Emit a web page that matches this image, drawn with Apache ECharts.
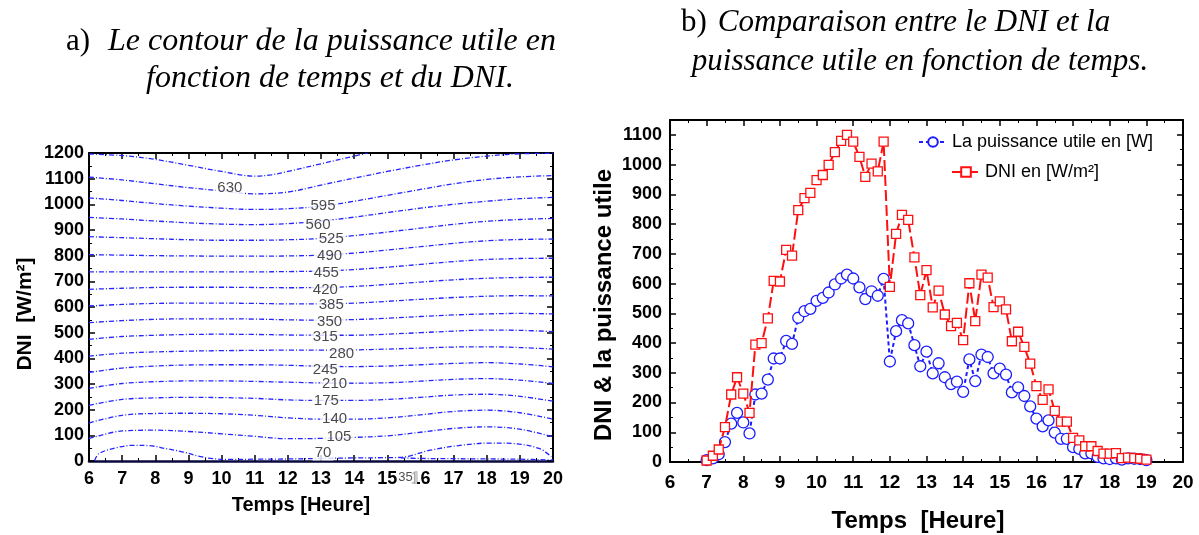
<!DOCTYPE html>
<html><head><meta charset="utf-8">
<script src="https://cdn.jsdelivr.net/npm/echarts@6/dist/echarts.min.js"></script>
<style>html,body{margin:0;padding:0;background:#fff}#c{width:1199px;height:535px}</style>
</head><body><div id="c"></div>
<script>
// ---------- Left chart: contour lines [time, DNI] ----------
const C665 = [[6,1196],[7,1190],[8,1175],[9,1152],[10,1128],[11,1110],[11.5,1115],[12,1128],[13,1158],[14,1188],[14.4,1200]];
const C630 = [[6,1106],[7,1095],[8,1080],[9,1065],[10,1052],[11,1041],[12,1048],[13,1075],[14,1102],[15,1128],[16,1152],[17,1173],[18,1188],[19,1197],[20,1199]];
const C595 = [[6,1025],[7,1015],[8,1003],[9,993],[10,985],[11,980],[12,983],[13,993],[14,1012],[15,1035],[16,1058],[17,1080],[18,1097],[19,1107],[20,1112]];
const C560 = [[6,949],[7,943],[8,935],[9,928],[10,923],[11,921],[12,925],[13,935],[14,950],[15,968],[16,985],[17,1000],[18,1012],[19,1022],[20,1027]];
const C525 = [[6,874],[7,870],[8,866],[9,862],[10,860],[11,860],[12,862],[13,867],[14,878],[15,892],[16,907],[17,922],[18,934],[19,941],[20,945]];
const C490 = [[6,804],[7,802],[8,800],[9,799],[10,798],[11,798],[12,799],[13,802],[14,810],[15,822],[16,835],[17,848],[18,858],[19,863],[20,865]];
const C455 = [[6,737],[7,737],[8,737],[9,737],[10,737],[11,737],[12,738],[13,740],[14,746],[15,755],[16,766],[17,777],[18,785],[19,789],[20,790]];
const C420 = [[6,669],[7,673],[8,676],[9,677],[10,677],[11,676],[12,675],[13,676],[14,680],[15,688],[16,697],[17,706],[18,712],[19,715],[20,716]];
const C385 = [[6,604],[7,610],[8,614],[9,615],[10,615],[11,614],[12,612],[13,612],[14,615],[15,622],[16,630],[17,637],[18,642],[19,644],[20,643]];
const C350 = [[6,539],[7,547],[8,552],[9,554],[10,554],[11,553],[12,550],[13,549],[14,551],[15,556],[16,563],[17,569],[18,573],[19,575],[20,573]];
const C315 = [[6,474],[7,485],[8,490],[9,493],[10,494],[11,493],[12,491],[13,490],[14,490],[15,494],[16,500],[17,506],[18,510],[19,509],[20,504]];
const C280 = [[6,409],[7,420],[8,425],[9,428],[10,430],[11,431],[12,432],[13,432],[14,433],[15,436],[16,440],[17,444],[18,445],[19,442],[20,436]];
const C245 = [[6,345],[7,362],[8,370],[9,374],[10,375],[11,375],[12,373],[13,369],[14,368],[15,370],[16,375],[17,380],[18,383],[19,378],[20,367]];
const C210 = [[6,283],[7,302],[8,309],[9,312],[10,312],[11,310],[12,307],[13,304],[14,303],[15,305],[16,311],[17,318],[18,321],[19,315],[20,302]];
const C175 = [[6,217],[7,240],[8,246],[9,248],[10,247],[11,244],[12,238],[13,236],[14,236],[15,240],[16,248],[17,257],[18,260],[19,252],[20,233]];
const C140 = [[6,148],[7,178],[8,185],[9,186],[10,184],[11,178],[12,168],[13,163],[14,163],[15,168],[16,180],[17,193],[18,198],[19,188],[20,163]];
const C105 = [[6,87],[7,117],[8,120],[9,115],[10,106],[11,96],[12,87],[13,88],[14,92],[15,98],[16,112],[17,127],[18,133],[19,124],[20,94]];
const C70  = [[6.17,2],[6.3,29],[6.83,52],[7.33,61],[7.8,60],[8.33,48],[8.84,35],[9.34,18],[9.74,9],[10.3,6],[11,7],[12,8],[13,10],[14,12],[15,13],[15.4,14],[16.3,42],[17.2,61],[18.1,70],[18.8,68],[19.6,48],[19.95,16]];
const C35  = [[15.4,12],[16,10],[17,9],[18,8],[19,7],[20,4]];
const CONTOURS = [C665,C630,C595,C560,C525,C490,C455,C420,C385,C350,C315,C280,C245,C210,C175,C140,C105,C70,C35];

const LABEL_TEXT = ['630','595','560','525','490','455','420','385','350','315','280','245','210','175','140','105','70'];
const LABEL_T = [10.25,13.06,12.91,13.31,13.26,13.16,13.13,13.31,13.26,13.13,13.62,13.13,13.41,13.16,13.41,13.54,13.06];
const LABEL_V = [1064,994,920,865,799,734,666,608,543,484,419,357,302,234,165,94,31];
const LABEL35 = [15.6, -64];

// ---------- Right chart: 10-minute data ----------
const TIMES = [7.00,7.17,7.33,7.50,7.67,7.83, 8.00,8.17,8.33,8.50,8.67,8.83, 9.00,9.17,9.33,9.50,9.67,9.83,
  10.00,10.17,10.33,10.50,10.67,10.83, 11.00,11.17,11.33,11.50,11.67,11.83, 12.00,12.17,12.33,12.50,12.67,12.83,
  13.00,13.17,13.33,13.50,13.67,13.83, 14.00,14.17,14.33,14.50,14.67,14.83, 15.00,15.17,15.33,15.50,15.67,15.83,
  16.00,16.17,16.33,16.50,16.67,16.83, 17.00,17.17,17.33,17.50,17.67,17.83, 18.00,18.17,18.33,18.50,18.67,18.83, 19.00];
const DNI = [5,21,42,117,227,285, 230,165,395,400,483,609, 607,713,694,847,887,905,
  948,965,999,1042,1080,1100, 1077,1026,959,1003,977,1077, 589,767,831,814,688,561,
  645,520,576,496,457,468, 410,601,474,630,620,521, 540,513,406,438,387,331,
  255,209,244,172,136,136, 81,73,53,53,37,28, 28,30,13,15,13,11, 8];
const POWER = [6,12,26,67,129,165, 133,96,227,230,277,348, 348,407,397,485,507,515,
  542,552,570,597,617,630, 617,587,548,574,559,616, 338,440,477,466,393,322,
  371,298,332,285,262,270, 236,345,272,361,353,298, 314,294,234,251,222,187,
  146,120,140,99,78,78, 50,44,29,29,17,12, 10,12,8,12,11,10, 6];
const NAME_P = 'La puissance utile en [W]';
const NAME_D = 'DNI en [W/m²]';

const SANS = '"Liberation Sans", Arial, sans-serif';
const SERIF = '"Liberation Serif", "Times New Roman", serif';

function mkAxis(grid, min, max, interval, pos, showLabel, fs, margin) {
  return {
    gridIndex: grid, type: 'value', min, max, interval, position: pos,
    axisLine: {show: true, onZero: false, lineStyle: {color: '#000', width: 2}},
    axisTick: {show: true, inside: true, length: 6, lineStyle: {color: '#000', width: 1.5}},
    minorTick: {show: true, splitNumber: 2, length: 3, lineStyle: {color: '#000', width: 1}},
    splitLine: {show: false},
    axisLabel: {show: showLabel, color: '#000', fontSize: fs, fontWeight: 'bold', fontFamily: SANS, margin: margin,
      showMaxLabel: max % interval === 0, formatter: v => String(v)},
  };
}

const xAxis = [
  mkAxis(0, 6, 20, 1, 'bottom', true, 18, 9),
  mkAxis(0, 6, 20, 1, 'top', false, 18, 8),
  mkAxis(1, 6, 20, 1, 'bottom', true, 19, 11),
  mkAxis(1, 6, 20, 1, 'top', false, 19, 8),
];
xAxis[0].axisLine.lineStyle.color = '#0a0a40';
xAxis[0].axisLine.lineStyle.width = 2.5;
const yAxis = [
  mkAxis(0, 0, 1200, 100, 'left', true, 18, 5),
  mkAxis(0, 0, 1200, 100, 'right', false, 18, 8),
  mkAxis(1, 0, 1150, 100, 'left', true, 18, 8),
  mkAxis(1, 0, 1150, 100, 'right', false, 18, 8),
];

const series = [];
CONTOURS.forEach(pts => {
  series.push({
    type: 'line', xAxisIndex: 0, yAxisIndex: 0, data: pts, smooth: 0.35, symbol: 'none',
    silent: true, z: 2, clip: true,
    lineStyle: {color: '#2424ff', width: 1.3, type: [5, 2, 1, 2]}
  });
});
series.push({
  type: 'scatter', xAxisIndex: 0, yAxisIndex: 0, z: 5, clip: false, silent: true,
  symbolSize: 1, itemStyle: {color: 'rgba(0,0,0,0)'},
  data: LABEL_TEXT.map((t, i) => ({value: [LABEL_T[i], LABEL_V[i]], name: t})),
  label: {show: true, position: 'inside', formatter: p => p.name, color: '#1a1a1a', fontSize: 15,
    fontFamily: SANS, backgroundColor: '#fff', padding: [0, 2]}
});
series.push({
  type: 'scatter', xAxisIndex: 0, yAxisIndex: 0, z: 5, clip: false, silent: true,
  symbolSize: 1, itemStyle: {color: 'rgba(0,0,0,0)'},
  data: [{value: LABEL35, name: '35'}],
  label: {show: true, position: 'inside', formatter: '{a|35}{b||}', backgroundColor: '#fff', padding: [1, 1],
    rich: {a: {color: '#222', fontSize: 13, fontFamily: SANS}, b: {color: '#999', fontSize: 13, fontFamily: SANS}}}
});
series.push({
  name: NAME_P, type: 'line', xAxisIndex: 2, yAxisIndex: 2, z: 3,
  data: TIMES.map((t, i) => [t, POWER[i]]),
  symbol: 'circle', symbolSize: 11, showAllSymbol: true,
  lineStyle: {color: '#1c1cff', width: 2, type: [4, 3]},
  itemStyle: {color: '#fff', borderColor: '#1c1cff', borderWidth: 1.3}
});
series.push({
  name: NAME_D, type: 'line', xAxisIndex: 2, yAxisIndex: 2, z: 4,
  data: TIMES.map((t, i) => [t, DNI[i]]),
  symbol: 'rect', symbolSize: 9, showAllSymbol: true,
  lineStyle: {color: '#ff1010', width: 2, type: [11, 4]},
  itemStyle: {color: '#fff', borderColor: '#ff1010', borderWidth: 1.3}
});

function txt(x, y, text, font, rot) {
  return {type: 'text', x, y, rotation: rot || 0, silent: true,
    style: {text, font, fill: '#000', align: 'center', verticalAlign: 'middle', textAlign: 'center', textVerticalAlign: 'middle'}};
}

const option = {
  animation: false,
  backgroundColor: '#fff',
  grid: [
    {left: 89, top: 153, width: 464, height: 308},
    {left: 670, top: 120, width: 513, height: 342}
  ],
  xAxis, yAxis, series,
  legend: [
    {data: [NAME_P], left: 918, top: 133, itemWidth: 28, itemHeight: 12, padding: 0,
      textStyle: {fontSize: 18, fontFamily: SANS, color: '#000'}},
    {data: [NAME_D], left: 951, top: 163, itemWidth: 28, itemHeight: 12, padding: 0,
      textStyle: {fontSize: 18, fontFamily: SANS, color: '#000'}}
  ],
  graphic: [
    txt(78, 42, 'a)', '31px ' + SERIF),
    txt(332, 42, 'Le contour de la puissance utile en', 'italic 32px ' + SERIF),
    txt(330, 79, 'fonction de temps et du DNI.', 'italic 32px ' + SERIF),
    txt(694, 23, 'b)', '31px ' + SERIF),
    txt(914, 23, 'Comparaison entre le DNI et la', 'italic 31px ' + SERIF),
    txt(920, 62, 'puissance utile en fonction de temps.', 'italic 31px ' + SERIF),
    txt(301, 505, 'Temps [Heure]', 'bold 20px ' + SANS),
    txt(25, 314, 'DNI  [W/m²]', 'bold 21px ' + SANS, Math.PI / 2),
    txt(918, 521, 'Temps  [Heure]', 'bold 24px ' + SANS),
    txt(604, 305, 'DNI & la puissance utile', 'bold 24px ' + SANS, Math.PI / 2)
  ]
};
const chart = echarts.init(document.getElementById('c'));
chart.setOption(option);
</script></body></html>
